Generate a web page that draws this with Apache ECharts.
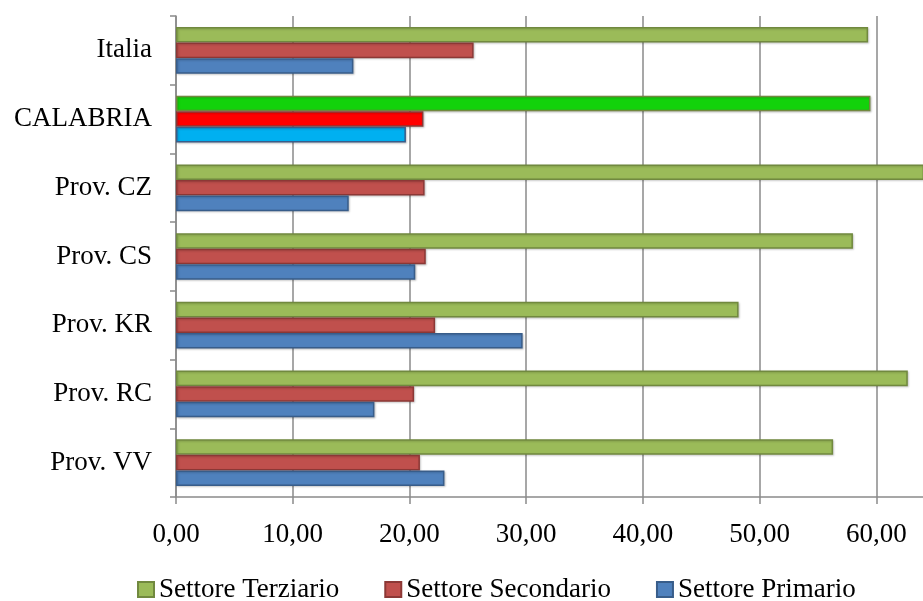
<!DOCTYPE html>
<html>
<head>
<meta charset="utf-8">
<title>Occupati per settore</title>
<script src="https://cdn.jsdelivr.net/npm/echarts@6/dist/echarts.min.js"></script>
<style>
  html, body { margin: 0; padding: 0; background: #ffffff; overflow: hidden; }
  /* the plot runs past the right edge of the window, as in the printed figure */
  #chart { width: 1000px; height: 601px; }
</style>
</head>
<body>
<div id="chart"></div>
<script>
// Quota di occupati per settore (%)
const categories = ['Italia', 'CALABRIA', 'Prov. CZ', 'Prov. CS', 'Prov. KR', 'Prov. RC', 'Prov. VV'];
const seriesNames = ['Settore Terziario', 'Settore Secondario', 'Settore Primario'];
const terziario = [59.3, 59.5, 64.1, 58.0, 48.2, 62.7, 56.3];
const secondario = [25.5, 21.2, 21.3, 21.4, 22.2, 20.4, 20.9];
const primario = [15.2, 19.7, 14.8, 20.5, 29.7, 17.0, 23.0];
const axisMin = 0;
const axisMax = 70;
const axisStep = 10;

// Regional row gets its own brighter fills
const highlightCategory = 'CALABRIA';
const palette = [
  { fill: '#9BBB59', border: '#71893F', highlight: '#12D20B' },
  { fill: '#C0504D', border: '#8C3836', highlight: '#FF0000' },
  { fill: '#4F81BD', border: '#385D8A', highlight: '#00B0F0' }
];

const font = "'Liberation Serif', 'Times New Roman', serif";

function buildData(values, style) {
  return values.map((v, i) => {
    if (categories[i] === highlightCategory) {
      return { value: v, itemStyle: { color: style.highlight } };
    }
    return v;
  });
}

const seriesValues = [terziario, secondario, primario];

const chart = echarts.init(document.getElementById('chart'), null, { renderer: 'canvas' });

chart.setOption({
  animation: false,
  backgroundColor: '#ffffff',
  textStyle: { fontFamily: font },
  grid: {
    left: 176, width: 817, top: 16, bottom: 104,
    containLabel: false,
    outerBoundsMode: 'none'
  },
  legend: {
    left: 132,
    top: 571,
    itemWidth: 16,
    itemHeight: 15,
    itemGap: 45,
    icon: 'rect',
    selectedMode: false,
    textStyle: { fontFamily: font, fontSize: 27, color: '#000000', padding: [0, 0, 0, 0] },
    data: seriesNames.map((n, i) => ({
      name: n,
      itemStyle: { color: palette[i].fill, borderColor: palette[i].border, borderWidth: 2 }
    }))
  },
  xAxis: {
    type: 'value',
    min: axisMin,
    max: axisMax,
    interval: axisStep,
    axisLine: { show: true, lineStyle: { color: '#8a8a8a', width: 1.5 } },
    axisTick: { show: true, length: 7, lineStyle: { color: '#8a8a8a', width: 1.5 } },
    splitLine: { show: true, lineStyle: { color: '#8a8a8a', width: 1.5 } },
    axisLabel: {
      margin: 24,
      color: '#000000',
      fontFamily: font,
      fontSize: 27,
      formatter: v => v.toFixed(2).replace('.', ',')
    }
  },
  yAxis: {
    type: 'category',
    data: categories,
    inverse: true,
    axisLine: { show: true, lineStyle: { color: '#8a8a8a', width: 1.5 } },
    axisTick: { show: true, length: 6, lineStyle: { color: '#8a8a8a', width: 1.5 } },
    splitLine: { show: false },
    axisLabel: { margin: 24, color: '#000000', fontFamily: font, fontSize: 27 }
  },
  series: seriesNames.map((name, i) => ({
    name: name,
    type: 'bar',
    barGap: '0%',
    barCategoryGap: '32%',
    itemStyle: {
      color: palette[i].fill,
      borderColor: palette[i].border,
      borderWidth: 1.5,
      shadowColor: 'rgba(0,0,0,0.18)',
      shadowBlur: 2,
      shadowOffsetX: 1,
      shadowOffsetY: 1
    },
    emphasis: { disabled: true },
    data: buildData(seriesValues[i], palette[i])
  }))
});
</script>
</body>
</html>
